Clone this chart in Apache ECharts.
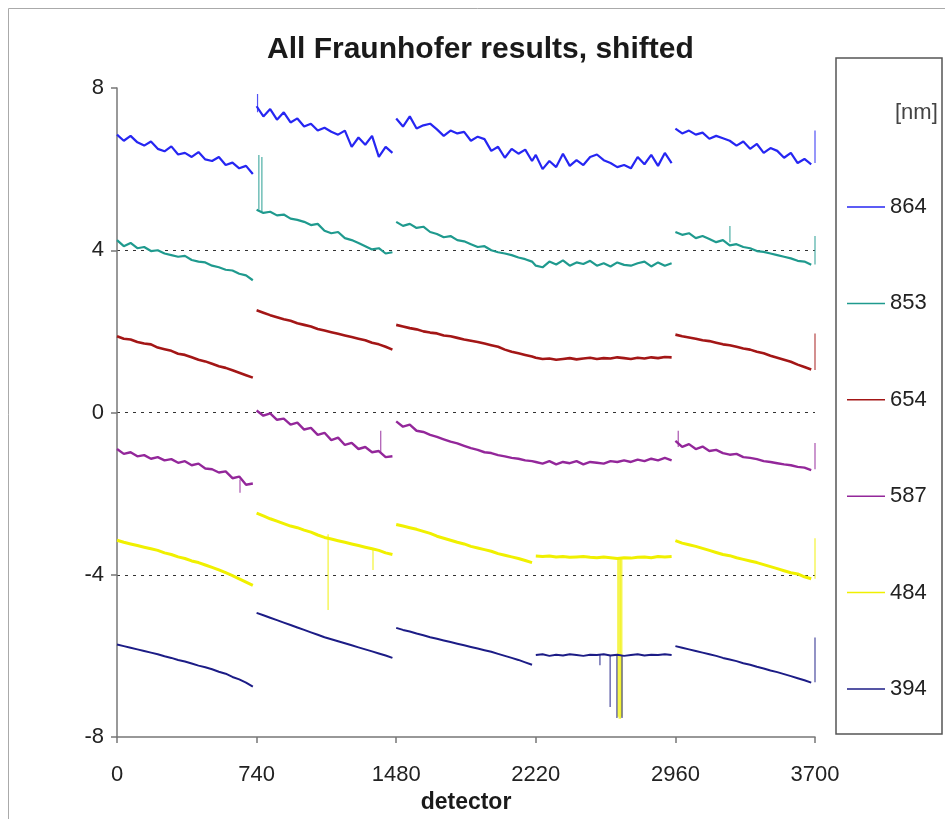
<!DOCTYPE html>
<html>
<head>
<meta charset="utf-8">
<title>All Fraunhofer results, shifted</title>
<script src="https://cdn.jsdelivr.net/npm/echarts@6/dist/echarts.min.js"></script>
<style>
  html, body { margin: 0; padding: 0; background: #fff; }
  #chart { width: 945px; height: 819px; }
</style>
</head>
<body>
<div id="chart"></div>
<script>
// detector segments, each sampled every 36 units from its start
const segStarts = [0, 740, 1480, 2220, 2960];
const step = 36;
const xTicks = [0, 740, 1480, 2220, 2960, 3700];

const wavelengths = ['864', '853', '654', '587', '484', '394'];
const colors = ['#2626f2', '#1f9a8e', '#a31616', '#93279a', '#f0f000', '#1c1c86'];
const widths = [2.2, 2.2, 2.6, 2.4, 3, 2];
// segment 3 runs straight into segment 4 for these
const joinedMid = [true, true, true, true, false, false];

const nm864 = [
  [6.85, 6.70, 6.82, 6.66, 6.58, 6.68, 6.50, 6.44, 6.56, 6.36, 6.40, 6.30, 6.42, 6.24, 6.20, 6.30, 6.10, 6.16, 6.02, 6.08, 5.88],
  [7.55, 7.30, 7.48, 7.22, 7.40, 7.15, 7.25, 7.05, 7.12, 6.95, 7.02, 6.92, 6.85, 6.95, 6.55, 6.78, 6.60, 6.82, 6.30, 6.55, 6.40],
  [7.25, 7.05, 7.30, 7.00, 7.08, 7.12, 6.98, 6.82, 6.95, 6.88, 6.92, 6.70, 6.80, 6.74, 6.45, 6.55, 6.28, 6.50, 6.38, 6.48, 6.20],
  [6.35, 6.00, 6.20, 6.05, 6.38, 6.08, 6.22, 6.10, 6.30, 6.36, 6.22, 6.15, 6.05, 6.10, 6.02, 6.30, 6.12, 6.35, 6.08, 6.40, 6.15],
  [7.00, 6.88, 6.95, 6.85, 6.90, 6.75, 6.82, 6.76, 6.70, 6.58, 6.68, 6.50, 6.62, 6.40, 6.52, 6.45, 6.28, 6.40, 6.15, 6.25, 6.12]
];
const nm853 = [
  [4.25, 4.10, 4.18, 4.05, 4.08, 3.98, 4.00, 3.92, 3.88, 3.84, 3.86, 3.76, 3.72, 3.70, 3.62, 3.58, 3.52, 3.50, 3.42, 3.38, 3.26],
  [5.00, 4.92, 4.95, 4.86, 4.88, 4.78, 4.75, 4.70, 4.62, 4.65, 4.48, 4.42, 4.45, 4.30, 4.25, 4.18, 4.10, 4.02, 4.05, 3.92, 3.95],
  [4.70, 4.60, 4.65, 4.55, 4.58, 4.45, 4.40, 4.32, 4.35, 4.25, 4.22, 4.15, 4.08, 4.10, 4.00, 3.95, 3.92, 3.88, 3.82, 3.78, 3.72],
  [3.62, 3.58, 3.72, 3.65, 3.75, 3.62, 3.70, 3.66, 3.74, 3.62, 3.68, 3.60, 3.70, 3.64, 3.62, 3.68, 3.72, 3.60, 3.70, 3.62, 3.68],
  [4.45, 4.38, 4.42, 4.30, 4.35, 4.28, 4.20, 4.25, 4.12, 4.15, 4.08, 4.05, 3.98, 3.96, 3.92, 3.88, 3.84, 3.80, 3.74, 3.72, 3.64]
];
const nm654 = [
  [1.88, 1.82, 1.80, 1.74, 1.70, 1.68, 1.60, 1.56, 1.52, 1.45, 1.42, 1.36, 1.30, 1.26, 1.20, 1.14, 1.10, 1.04, 0.98, 0.92, 0.86],
  [2.52, 2.46, 2.40, 2.35, 2.30, 2.26, 2.20, 2.16, 2.12, 2.06, 2.02, 1.98, 1.94, 1.90, 1.86, 1.82, 1.78, 1.72, 1.68, 1.62, 1.55],
  [2.16, 2.12, 2.08, 2.05, 2.00, 1.97, 1.95, 1.90, 1.88, 1.84, 1.80, 1.77, 1.74, 1.70, 1.66, 1.62, 1.55, 1.50, 1.46, 1.42, 1.38],
  [1.35, 1.32, 1.33, 1.30, 1.32, 1.34, 1.31, 1.33, 1.35, 1.32, 1.34, 1.33, 1.36, 1.34, 1.32, 1.35, 1.33, 1.36, 1.34, 1.37, 1.36],
  [1.92, 1.88, 1.85, 1.82, 1.78, 1.76, 1.72, 1.68, 1.66, 1.62, 1.58, 1.55, 1.50, 1.46, 1.40, 1.35, 1.30, 1.25, 1.18, 1.12, 1.06]
];
const nm587 = [
  [-0.90, -1.02, -0.98, -1.08, -1.05, -1.14, -1.10, -1.18, -1.15, -1.24, -1.20, -1.30, -1.26, -1.38, -1.40, -1.48, -1.45, -1.62, -1.58, -1.78, -1.75],
  [0.05, -0.08, -0.02, -0.18, -0.15, -0.30, -0.25, -0.42, -0.38, -0.55, -0.50, -0.68, -0.62, -0.80, -0.75, -0.90, -0.85, -0.98, -0.95, -1.10, -1.08],
  [-0.22, -0.35, -0.30, -0.45, -0.48, -0.55, -0.60, -0.66, -0.72, -0.76, -0.82, -0.88, -0.92, -0.98, -1.00, -1.05, -1.08, -1.12, -1.14, -1.18, -1.20],
  [-1.22, -1.26, -1.20, -1.28, -1.22, -1.25, -1.20, -1.28, -1.22, -1.24, -1.26, -1.20, -1.22, -1.18, -1.22, -1.16, -1.20, -1.14, -1.18, -1.12, -1.18],
  [-0.70, -0.85, -0.78, -0.90, -0.84, -0.95, -0.92, -1.00, -1.04, -1.02, -1.10, -1.12, -1.15, -1.20, -1.22, -1.25, -1.28, -1.30, -1.34, -1.36, -1.42]
];
const nm484 = [
  [-3.15, -3.20, -3.24, -3.28, -3.32, -3.36, -3.40, -3.46, -3.50, -3.56, -3.60, -3.66, -3.70, -3.76, -3.82, -3.88, -3.95, -4.02, -4.10, -4.18, -4.26],
  [-2.48, -2.55, -2.62, -2.68, -2.74, -2.80, -2.84, -2.90, -2.95, -3.02, -3.08, -3.12, -3.16, -3.20, -3.24, -3.28, -3.32, -3.36, -3.40, -3.46, -3.50],
  [-2.76, -2.80, -2.84, -2.88, -2.93, -2.98, -3.05, -3.10, -3.15, -3.20, -3.24, -3.30, -3.34, -3.38, -3.42, -3.48, -3.52, -3.56, -3.60, -3.65, -3.70],
  [-3.54, -3.55, -3.54, -3.56, -3.55, -3.57, -3.56, -3.55, -3.57, -3.58, -3.56, -3.58, -3.60, -3.58, -3.59, -3.57, -3.56, -3.58, -3.55, -3.56, -3.55],
  [-3.16, -3.22, -3.26, -3.30, -3.35, -3.40, -3.45, -3.50, -3.53, -3.58, -3.62, -3.66, -3.70, -3.75, -3.80, -3.85, -3.90, -3.95, -3.98, -4.05, -4.10]
];
const nm394 = [
  [-5.72, -5.76, -5.80, -5.84, -5.88, -5.92, -5.96, -6.01, -6.05, -6.10, -6.14, -6.19, -6.24, -6.28, -6.33, -6.39, -6.44, -6.52, -6.58, -6.66, -6.76],
  [-4.94, -5.00, -5.06, -5.12, -5.18, -5.24, -5.30, -5.36, -5.42, -5.48, -5.54, -5.59, -5.64, -5.69, -5.74, -5.79, -5.84, -5.89, -5.94, -5.99, -6.05],
  [-5.31, -5.36, -5.40, -5.45, -5.49, -5.54, -5.58, -5.62, -5.66, -5.70, -5.74, -5.78, -5.82, -5.86, -5.90, -5.95, -6.00, -6.05, -6.10, -6.16, -6.22],
  [-5.98, -5.96, -6.00, -5.97, -5.99, -5.96, -5.98, -6.00, -5.97, -5.98, -5.96, -5.99, -5.97, -6.00, -5.98, -5.96, -5.99, -5.97, -5.98, -5.96, -5.98],
  [-5.76, -5.80, -5.84, -5.88, -5.92, -5.96, -6.00, -6.05, -6.09, -6.13, -6.18, -6.22, -6.27, -6.31, -6.36, -6.40, -6.45, -6.50, -6.55, -6.60, -6.66]
];

// spikes: [detector, from, to]
const spikes864 = [[745, 7.40, 7.85], [3700, 6.15, 6.95]];
const spikes853 = [[752, 5.00, 6.35], [768, 4.95, 6.30], [3249, 4.20, 4.60], [3700, 3.65, 4.35]];
const spikes654 = [[3700, 1.05, 1.95]];
const spikes587 = [[652, -1.65, -1.98], [1398, -1.00, -0.45], [2975, -0.85, -0.45], [3700, -1.40, -0.75]];
const spikes484 = [[1119, -3.00, -4.87], [1357, -3.35, -3.88], [2655, -3.58, -7.50], [2662, -3.58, -7.55],
                   [2669, -3.58, -7.55], [2676, -3.58, -7.50], [3700, -4.10, -3.10]];
const spikes394 = [[2560, -5.98, -6.23], [2614, -5.98, -7.26], [2650, -5.98, -7.53], [2677, -5.98, -7.53], [3700, -6.65, -5.55]];

const allSegs = [nm864, nm853, nm654, nm587, nm484, nm394];
const allSpikes = [spikes864, spikes853, spikes654, spikes587, spikes484, spikes394];

function buildLine(segs, joinMid) {
  const out = [];
  segs.forEach((vals, k) => {
    vals.forEach((v, i) => out.push([segStarts[k] + i * step, v]));
    if (k < segs.length - 1 && !(k === 2 && joinMid)) out.push([segStarts[k] + 730, null]);
  });
  return out;
}

function buildSpikes(list) {
  const out = [];
  list.forEach(([x, a, b]) => { out.push([x, a], [x, b], [x, null]); });
  return out;
}

const font = 'Liberation Sans, Arial, Helvetica, sans-serif';
const series = [];
wavelengths.forEach((name, i) => {
  series.push({
    name: name,
    type: 'line',
    data: buildLine(allSegs[i], joinedMid[i]),
    symbol: 'none',
    connectNulls: false,
    lineStyle: { color: colors[i], width: widths[i] },
    itemStyle: { color: colors[i] },
    z: 3
  });
  series.push({
    name: name,
    type: 'line',
    data: buildSpikes(allSpikes[i]),
    symbol: 'none',
    connectNulls: false,
    lineStyle: { color: colors[i], width: 1.2, opacity: 0.8 },
    itemStyle: { color: colors[i] },
    z: 2
  });
});

const chart = echarts.init(document.getElementById('chart'));
chart.setOption({
  animation: false,
  backgroundColor: '#fff',
  title: {
    text: 'All Fraunhofer results, shifted',
    left: 262,
    top: 30,
    textStyle: { fontFamily: font, fontSize: 30, fontWeight: 'bold', color: '#1a1a1a' }
  },
  grid: { left: 117, right: 130, top: 88, bottom: 82 },
  legend: {
    data: wavelengths.map(n => ({ name: n, icon: 'rect' })),
    orient: 'vertical',
    left: 842,
    top: 191,
    itemGap: 74.4,
    itemWidth: 38,
    itemHeight: 1.5,
    textStyle: { fontFamily: font, fontSize: 22, color: '#222', lineHeight: 22 }
  },
  xAxis: {
    type: 'value',
    min: 0,
    max: 3700,
    interval: 740,
    name: 'detector',
    nameLocation: 'middle',
    nameGap: 52,
    nameTextStyle: { fontFamily: font, fontSize: 23, fontWeight: 'bold', color: '#1a1a1a' },
    axisLine: { onZero: false, lineStyle: { color: '#777', width: 1.5 } },
    axisTick: { show: true, length: 6, lineStyle: { color: '#777', width: 1.5 } },
    axisLabel: { fontFamily: font, fontSize: 22, color: '#222', margin: 27,
      formatter: v => xTicks.includes(v) ? String(v) : '' },
    splitLine: { show: false }
  },
  yAxis: {
    type: 'value',
    min: -8,
    max: 8,
    interval: 4,
    axisLine: { show: true, lineStyle: { color: '#777', width: 1.5 } },
    axisTick: { show: true, length: 6, lineStyle: { color: '#777', width: 1.5 } },
    axisLabel: { fontFamily: font, fontSize: 22, color: '#222', margin: 13 },
    splitLine: {
      show: true,
      showMinLine: false,
      showMaxLine: false,
      lineStyle: { color: '#333', width: 1, type: [3, 5] }
    }
  },
  graphic: [
    { type: 'rect', shape: { x: 836, y: 58, width: 106, height: 676 },
      style: { fill: 'none', stroke: '#555', lineWidth: 1.5 }, silent: true },
    { type: 'text', left: 895, top: 102,
      style: { text: '[nm]', fontFamily: font, fontSize: 22, fill: '#444' } },
    { type: 'rect', shape: { x: 8.5, y: 8.5, width: 940, height: 820 },
      style: { fill: 'none', stroke: '#aaa', lineWidth: 1 }, silent: true }
  ],
  series: series
});
</script>
</body>
</html>
